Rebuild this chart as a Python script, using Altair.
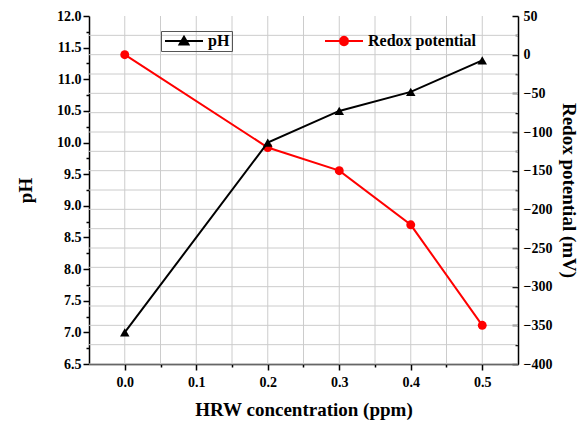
import altair as alt
import pandas as pd

# ---- data ----
conc = [0.0, 0.2, 0.3, 0.4, 0.5]
ph = [7.0, 10.0, 10.5, 10.8, 11.3]
redox = [0, -120, -150, -220, -350]

x_ticks = [0.0, 0.05, 0.1, 0.15, 0.2, 0.25, 0.3, 0.35, 0.4, 0.45, 0.5]
ph_ticks = [6.5, 6.75, 7.0, 7.25, 7.5, 7.75, 8.0, 8.25, 8.5, 8.75, 9.0, 9.25,
            9.5, 9.75, 10.0, 10.25, 10.5, 10.75, 11.0, 11.25, 11.5, 11.75, 12.0]
redox_ticks = [-400, -375, -350, -325, -300, -275, -250, -225, -200, -175,
               -150, -125, -100, -75, -50, -25, 0, 25, 50]

df = pd.DataFrame({"conc": conc, "ph": ph, "redox": redox})
gx_df = pd.DataFrame({"gx": x_ticks})
gy_df = pd.DataFrame({"gy": redox_ticks})

FONT = "Liberation Serif"
GRID = "#cccccc"

x_scale = alt.Scale(domain=[-0.05, 0.55], nice=False, zero=False)
x_axis = alt.Axis(
    values=x_ticks,
    labelExpr="abs(round(datum.value*20)) % 2 == 0 ? format(datum.value, '.1f') : ''",
    tickSize={"condition": {"test": "abs(round(datum.value*20)) % 2 == 0", "value": 6}, "value": 3},
    grid=False,
    title="HRW concentration (ppm)",
    titleFont=FONT, titleFontSize=19, titleFontWeight="bold", titleColor="black",
    titlePadding=11,
    labelFont=FONT, labelFontSize=14, labelFontWeight="bold", labelColor="black",
    labelPadding=5, labelOverlap=False,
    domainColor="black", domainWidth=1.5, tickColor="black", tickWidth=1.5,
)


def xe(field):
    return alt.X(field, type="quantitative", scale=x_scale, axis=x_axis)


ph_scale = alt.Scale(domain=[6.5, 12.0], nice=False, zero=False)
ph_axis = alt.Axis(
    orient="left", values=ph_ticks,
    labelExpr="(datum.value*2) % 1 == 0 ? format(datum.value, '.1f') : ''",
    tickSize={"condition": {"test": "(datum.value*2) % 1 == 0", "value": 6}, "value": 3},
    grid=False, title="pH",
    titleFont=FONT, titleFontSize=19, titleFontWeight="bold", titleColor="black",
    titlePadding=21,
    labelFont=FONT, labelFontSize=14, labelFontWeight="bold", labelColor="black",
    labelPadding=2, labelOverlap=False,
    domainColor="black", domainWidth=1.5, tickColor="black", tickWidth=1.5,
)

rx_scale = alt.Scale(domain=[-400, 50], nice=False, zero=False)
rx_axis = alt.Axis(
    orient="right", values=redox_ticks,
    labelExpr="datum.value % 50 == 0 ? format(datum.value, 'd') : ''",
    tickSize={"condition": {"test": "datum.value % 50 == 0", "value": -6}, "value": -3},
    grid=False,
    title="Redox potential (mV)", titleAngle=90,
    titleFont=FONT, titleFontSize=19, titleFontWeight="bold", titleColor="black",
    titlePadding=7,
    labelFont=FONT, labelFontSize=14, labelFontWeight="bold", labelColor="black",
    labelPadding=11, labelOverlap=False,
    domainColor="black", domainWidth=1.5, tickColor="black", tickWidth=1.5,
)


def ye_rx(field):
    return alt.Y(field, type="quantitative", scale=rx_scale, axis=rx_axis)


# legend symbols: a 38px line with a marker, drawn in a 12px symbol box
TRI_PATH = "M-1,0L5.333,0M1.417,0.6L2.167,-0.7L2.917,0.6Z"
CIR_PATH = "M-1,0L5.333,0M1.5,0A0.667,0.667,0,1,0,2.833,0A0.667,0.667,0,1,0,1.5,0Z"

# grid lines
vgrid = alt.Chart(gx_df).mark_rule(color=GRID, strokeWidth=1).encode(x=xe("gx"))
hgrid = (
    alt.Chart(gy_df)
    .transform_filter("datum.gy < 50")
    .mark_rule(color=GRID, strokeWidth=1)
    .encode(y=ye_rx("gy"))
)

ph_line = alt.Chart(df).mark_line(color="black", strokeWidth=2).encode(
    x=xe("conc"), y=alt.Y("ph:Q", scale=ph_scale, axis=ph_axis))
ph_pts = alt.Chart(df).mark_point(shape="triangle-up", filled=True, size=90, opacity=1).encode(
    x=xe("conc"), y=alt.Y("ph:Q", scale=ph_scale, axis=ph_axis),
    color=alt.Color(
        "series:N",
        scale=alt.Scale(domain=["pH"], range=["black"]),
        legend=alt.Legend(
            title=None, orient="none", legendX=72, legendY=15,
            symbolType=TRI_PATH, symbolSize=144, symbolStrokeWidth=2,
            symbolStrokeColor="black", symbolFillColor="black",
            labelFont=FONT, labelFontSize=16, labelFontWeight="bold", labelColor="black",
            labelOffset=29, strokeColor="#555555", padding=2,
        ),
    ),
).transform_calculate(series="'pH'")

rx_line = alt.Chart(df).mark_line(color="#ff0000", strokeWidth=2).encode(
    x=xe("conc"), y=ye_rx("redox"))
rx_pts = alt.Chart(df).mark_point(shape="circle", filled=True, size=80, opacity=1).encode(
    x=xe("conc"), y=ye_rx("redox"),
    color=alt.Color(
        "series:N",
        scale=alt.Scale(domain=["Redox potential"], range=["#ff0000"]),
        legend=alt.Legend(
            title=None, orient="none", legendX=232, legendY=15,
            symbolType=CIR_PATH, symbolSize=144, symbolStrokeWidth=2,
            symbolStrokeColor="#ff0000", symbolFillColor="#ff0000",
            labelFont=FONT, labelFontSize=16, labelFontWeight="bold", labelColor="black",
            labelOffset=29, padding=2,
        ),
    ),
).transform_calculate(series="'Redox potential'")

right = alt.layer(hgrid, rx_line, rx_pts)
left = alt.layer(ph_line, ph_pts)

chart = (
    alt.layer(vgrid, right, left)
    .resolve_scale(y="independent", color="independent")
    .properties(
        width=429, height=348,
        autosize=alt.AutoSizeParams(type="none"),
        padding={"left": 89, "top": 16, "right": 68, "bottom": 59},
        background="white",
    )
    .configure_view(stroke=None)
)

chart.save("out.html", embed_options={"renderer": "svg", "actions": False})
